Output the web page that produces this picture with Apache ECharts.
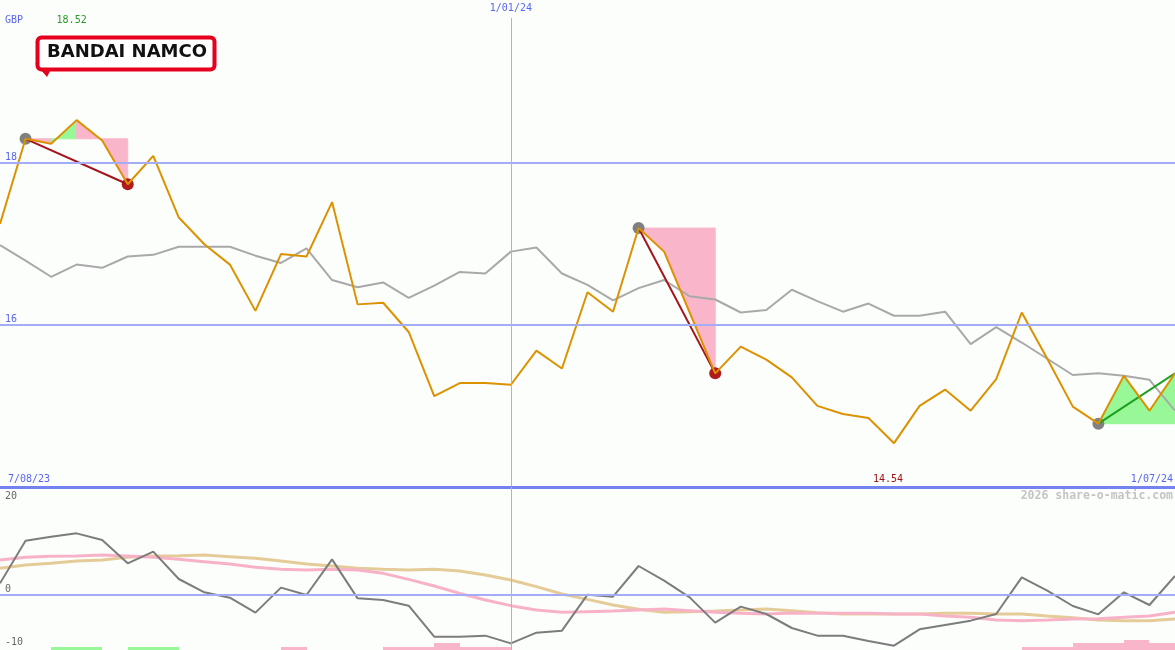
<!DOCTYPE html>
<html><head><meta charset="utf-8">
<script src="https://cdn.jsdelivr.net/npm/echarts@6/dist/echarts.min.js"></script>
<style>html,body{margin:0;padding:0;background:#fcfefc;}#c{width:1175px;height:650px;}</style>
</head><body><div id="c"></div>
<script>
// ---- data ----
const price = [17.24, 18.29, 18.23, 18.52, 18.27, 17.73, 18.08, 17.32, 16.99, 16.74,
  16.17, 16.87, 16.84, 17.51, 16.25, 16.27, 15.91, 15.12, 15.28, 15.28,
  15.26, 15.68, 15.46, 16.40, 16.16, 17.19, 16.90, 16.15, 15.40, 15.73,
  15.57, 15.35, 15.00, 14.90, 14.85, 14.54, 15.00, 15.20, 14.94, 15.33,
  16.15, 15.58, 14.99, 14.78, 15.37, 14.94, 15.40];
const avgLine = [16.98, 16.79, 16.59, 16.74, 16.70, 16.84, 16.86, 16.96, 16.96, 16.96,
  16.85, 16.76, 16.94, 16.55, 16.46, 16.52, 16.33, 16.48, 16.65, 16.63,
  16.90, 16.95, 16.63, 16.49, 16.30, 16.45, 16.55, 16.35, 16.31, 16.15,
  16.18, 16.43, 16.29, 16.16, 16.26, 16.11, 16.11, 16.16, 15.76, 15.97,
  15.78, 15.58, 15.38, 15.40, 15.37, 15.32, 14.94];
const oscLine = [2.33, 10.87, 11.67, 12.33, 11.0, 6.33, 8.67, 3.2, 0.53, -0.53,
  -3.53, 1.47, 0.0, 7.13, -0.67, -1.0, -2.13, -8.33, -8.33, -8.13,
  -9.67, -7.53, -7.13, 0.07, -0.33, 5.8, 2.87, -0.47, -5.53, -2.33,
  -3.8, -6.6, -8.13, -8.13, -9.2, -10.13, -6.87, -6.0, -5.13, -3.8,
  3.53, 0.87, -2.2, -3.87, 0.53, -2.0, 3.8];
const pinkSignal = [7.0, 7.53, 7.73, 7.8, 8.0, 7.8, 7.53, 7.13, 6.67, 6.2,
  5.53, 5.13, 5.0, 5.13, 5.0, 4.33, 3.13, 1.8, 0.33, -1.0,
  -2.13, -3.0, -3.47, -3.33, -3.2, -3.0, -2.8, -3.13, -3.47, -3.67,
  -3.8, -3.6, -3.67, -3.67, -3.67, -3.8, -3.8, -4.2, -4.47, -5.0,
  -5.13, -5.0, -4.8, -4.73, -4.47, -4.2, -3.47];
const tanSignal = [5.33, 6.0, 6.33, 6.8, 7.0, 7.53, 7.8, 7.87, 8.0, 7.67,
  7.33, 6.8, 6.2, 5.8, 5.33, 5.13, 5.0, 5.13, 4.8, 4.0,
  3.0, 1.67, 0.2, -0.87, -2.0, -2.87, -3.47, -3.33, -3.2, -3.0,
  -2.8, -3.17, -3.53, -3.8, -3.8, -3.8, -3.8, -3.67, -3.67, -3.8,
  -3.8, -4.2, -4.53, -5.0, -5.13, -5.13, -4.8];
// one value per weekly segment: + = green, - = pink, magnitude = level
const signalBars = [0, 0, 1, 1, 0, 1, 1, 0, 0, 0,
  0, -1, 0, 0, 0, -1, -1, -2, -1, -1,
  0, 0, 0, 0, 0, 0, 0, 0, 0, 0,
  0, 0, 0, 0, 0, 0, 0, 0, 0, 0,
  -1, -1, -2, -2, -3, -2];
const trendStart = [1, 25, 43];
const trendEnd = [5, 28, 46];
const currency = 'GBP';
const dateLabels = ['7/08/23', '1/01/24', '1/07/24'];
const dateIndex = [0, 20, 46];
const priceTicks = [16, 18];
const oscTicks = [-10, 0, 20];
const watermark = '2026 share-o-matic.com';
const brand = 'BANDAI NAMCO';

// ---- chart ----
const chart = echarts.init(document.getElementById('c'), null, {renderer: 'canvas'});
const N = price.length - 1;
const mono = '"DejaVu Sans Mono", monospace';
const BLUE_GRID = '#a3acf5';
const GREEN_FILL = '#98f898', PINK_FILL = '#f9b6cb';

const fillData = [];
trendStart.forEach((s, k) => {
  for (let i = s; i < trendEnd[k]; i++) {
    fillData.push([i, price[s], price[i], price[i + 1], price[i + 1] >= price[s] ? 1 : -1]);
  }
});
const trendData = trendStart.map((s, k) => [s, price[s], trendEnd[k], price[trendEnd[k]]]);
const pairs = arr => arr.map((v, i) => [i, v]);

const option = {
  backgroundColor: '#fcfefc',
  animation: false,
  grid: [
    {left: 0, width: 1175, top: -2, height: 489},
    {left: 0, width: 1175, top: 487, height: 163},
    {left: 0, width: 1175, top: 630, height: 20}
  ],
  xAxis: [0, 1, 2].map(g => ({type: 'value', gridIndex: g, min: 0, max: N, show: false})),
  yAxis: [
    {type: 'value', gridIndex: 0, min: 14, max: 20, show: false},
    {type: 'value', gridIndex: 1, min: -11, max: 21.6, show: false},
    {type: 'value', gridIndex: 2, min: 0, max: 6, show: false}
  ],
  series: [
    { // grid lines top
      type: 'line', xAxisIndex: 0, yAxisIndex: 0, data: [], z: 0, silent: true,
      markLine: {
        silent: true, symbol: 'none', label: {show: false}, animation: false,
        data: [
          {yAxis: priceTicks[0], lineStyle: {color: BLUE_GRID, width: 2, type: 'solid'}},
          {yAxis: priceTicks[1], lineStyle: {color: BLUE_GRID, width: 2, type: 'solid'}},
          [{coord: [dateIndex[1], 19.78], lineStyle: {color: '#a8b0ee', width: 1, type: 'solid'}}, {coord: [dateIndex[1], 14]}]
        ]
      }
    },
    { // fills
      type: 'custom', xAxisIndex: 0, yAxisIndex: 0, z: 1, silent: true, data: fillData,
      renderItem: (params, api) => {
        const i = api.value(0), base = api.value(1);
        const p0 = api.coord([i, base]), p1 = api.coord([i + 1, base]);
        const a = api.coord([i, api.value(2)]), b = api.coord([i + 1, api.value(3)]);
        const c = api.value(4) > 0 ? GREEN_FILL : PINK_FILL;
        return {type: 'polygon', shape: {points: [p0, a, b, p1]},
          style: {fill: c, stroke: c, lineWidth: 1}};
      }
    },
    { // moving average
      type: 'line', xAxisIndex: 0, yAxisIndex: 0, z: 2, data: pairs(avgLine),
      showSymbol: false, symbol: 'none', lineStyle: {color: '#a9a9a9', width: 2}
    },
    { // trend lines
      type: 'custom', xAxisIndex: 0, yAxisIndex: 0, z: 3, silent: true, data: trendData,
      renderItem: (params, api) => {
        const s = api.value(0), ps = api.value(1), e = api.value(2), pe = api.value(3);
        const a = api.coord([s, ps]), b = api.coord([e, pe]);
        const kids = [{type: 'circle', shape: {cx: a[0], cy: a[1], r: 6}, style: {fill: '#808080'}}];
        if (e < N) kids.push({type: 'circle', shape: {cx: b[0], cy: b[1], r: 6}, style: {fill: '#b01c1c'}});
        kids.push({type: 'line', shape: {x1: a[0], y1: a[1], x2: b[0], y2: b[1]},
          style: {stroke: pe < ps ? '#a3141c' : '#1e9e1e', lineWidth: 2}});
        return {type: 'group', children: kids};
      }
    },
    { // price
      type: 'line', xAxisIndex: 0, yAxisIndex: 0, z: 4, data: pairs(price),
      showSymbol: false, symbol: 'none', lineStyle: {color: '#dc9200', width: 2}
    },
    { // bottom panel grid lines
      type: 'line', xAxisIndex: 1, yAxisIndex: 1, data: [], z: 0, silent: true,
      markLine: {
        silent: true, symbol: 'none', label: {show: false}, animation: false,
        data: [
          {yAxis: oscTicks[1], lineStyle: {color: BLUE_GRID, width: 2, type: 'solid'}},
          {yAxis: 21.6, lineStyle: {color: '#7482f0', width: 3, type: 'solid'}},
          {xAxis: dateIndex[1], lineStyle: {color: '#a8b0ee', width: 1, type: 'solid'}}
        ]
      }
    },
    {
      type: 'line', xAxisIndex: 1, yAxisIndex: 1, z: 2, data: pairs(tanSignal),
      showSymbol: false, symbol: 'none', lineStyle: {color: '#e4cb98', width: 3}
    },
    {
      type: 'line', xAxisIndex: 1, yAxisIndex: 1, z: 2, data: pairs(pinkSignal),
      showSymbol: false, symbol: 'none', lineStyle: {color: '#f8b2c8', width: 3}
    },
    {
      type: 'line', xAxisIndex: 1, yAxisIndex: 1, z: 3, data: pairs(oscLine),
      showSymbol: false, symbol: 'none', lineStyle: {color: '#7c7c7c', width: 2}
    },
    { // signal bars
      type: 'custom', xAxisIndex: 2, yAxisIndex: 2, z: 2, silent: true,
      data: pairs(signalBars).filter(d => d[1] !== 0),
      renderItem: (params, api) => {
        const i = api.value(0), v = api.value(1);
        const p0 = api.coord([i, 0]), p1 = api.coord([i + 1, Math.abs(v)]);
        const x0 = Math.round(p0[0]), x1 = Math.round(p1[0]);
        const y1 = Math.round(p1[1]), y0 = Math.round(p0[1]);
        return {type: 'rect', shape: {x: x0, y: y1, width: x1 - x0, height: y0 - y1},
          style: {fill: v > 0 ? GREEN_FILL : PINK_FILL}};
      }
    }
  ]
};
chart.setOption(option);

// ---- labels positioned through the axes ----
const px = i => chart.convertToPixel({xAxisIndex: 0}, i);
const pyTop = v => chart.convertToPixel({yAxisIndex: 0}, v);
const pyBot = v => chart.convertToPixel({yAxisIndex: 1}, v);
const maxV = Math.max(...price), minV = Math.min(...price);
const maxI = price.indexOf(maxV), minI = price.indexOf(minV);
const txt = (x, y, text, color, align, extra) => Object.assign({
  type: 'text', x: x, y: y, silent: true, z: 100,
  style: Object.assign({text: text, fill: color, font: '10px ' + mono, textAlign: align || 'left', textVerticalAlign: 'middle'}, extra || {})
});
const graphics = [
  txt(5, 20, currency, '#5866f0'),
  txt(px(maxI) - 5, 20, maxV.toFixed(2), '#2a9a2a', 'center'),
  txt(px(dateIndex[1]), 8, dateLabels[1], '#5866f0', 'center'),
  txt(8, 479, dateLabels[0], '#5866f0'),
  txt(1173, 479, dateLabels[2], '#5866f0', 'right'),
  txt(px(minI) - 6, 479, minV.toFixed(2), '#a01414', 'center'),
  txt(1173, 496, watermark, '#c4c4c4', 'right', {font: 'bold 11.5px ' + mono}),
  txt(5, pyTop(priceTicks[0]) - 5, String(priceTicks[0]), '#5866f0'),
  txt(5, pyTop(priceTicks[1]) - 5, String(priceTicks[1]), '#5866f0'),
  txt(5, pyBot(oscTicks[2]) + 1, String(oscTicks[2]), '#666666'),
  txt(5, pyBot(oscTicks[1]) - 6, String(oscTicks[1]), '#666666'),
  txt(5, pyBot(oscTicks[0]) - 3, String(oscTicks[0]), '#666666'),
  // logo
  {type: 'polygon', silent: true, z: 100, shape: {points: [[35, 63], [47, 77], [51, 69]]}, style: {fill: '#e6001e'}},
  {type: 'rect', silent: true, z: 101, shape: {x: 37.5, y: 37.5, width: 177, height: 32, r: 4},
    style: {fill: '#ffffff', stroke: '#e6001e', lineWidth: 4}},
  {type: 'text', silent: true, z: 102, x: 127, y: 52,
    style: {text: brand, fill: '#111111', font: 'bold 18px "DejaVu Sans", sans-serif', textAlign: 'center', textVerticalAlign: 'middle'}}
];
chart.setOption({graphic: graphics});
</script>
</body></html>
